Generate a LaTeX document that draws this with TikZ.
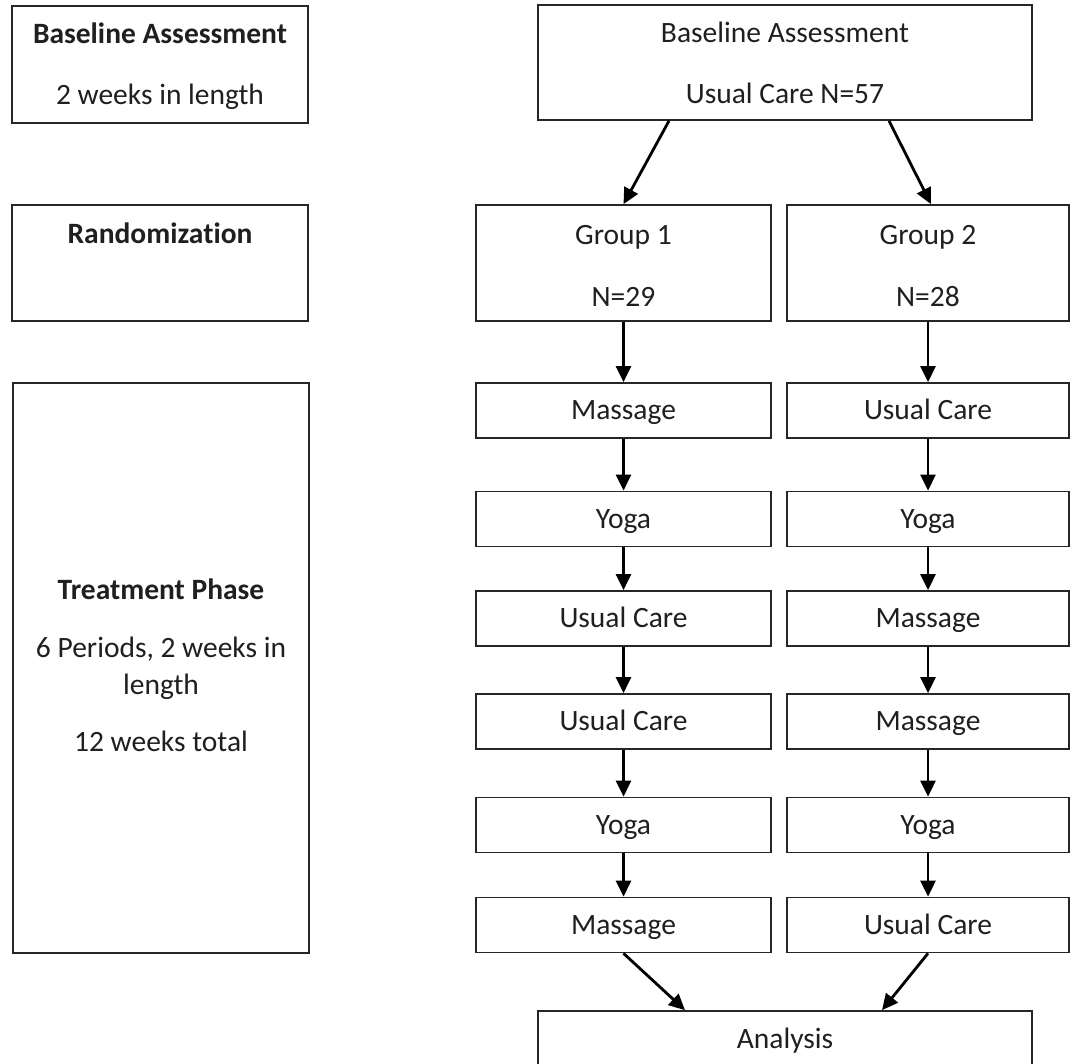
\documentclass[tikz,border=0pt]{standalone}
\usepackage{fontspec}
\setmainfont{Carlito}[Ligatures=NoCommon]
\usetikzlibrary{arrows.meta}
\begin{document}
\begin{tikzpicture}[x=1pt,y=-1pt,
  box/.style={draw=black!85, line width=1.7pt, inner sep=0pt, minimum width=#1, fill=none},
  box/.default=296,
  txt/.style={inner sep=0pt, font=\fontsize{29.5}{35}\selectfont, text=black!88, text height=22pt, text depth=4pt},
  arr/.style={line width=2.8pt, -{Triangle[length=16pt,width=15pt]}}
]
\useasboundingbox (0,0) rectangle (1071,1063);
\clip (0,0) rectangle (1071,1063);

% left column
\node[box=296, minimum height=117] (lb) at (160,64.5) {};
\node[txt] (lbt1) at (160,34) {\textbf{Baseline Assessment}};
\node[txt] (lbt2) at (160,95) {2 weeks in length};

\node[box=296, minimum height=116] (lr) at (160,263) {};
\node[txt] (lrt) at (160,234) {\textbf{Randomization}};

\node[box=296, minimum height=570] (lt) at (161,668) {};
\node[txt] (ltt1) at (161,590) {\textbf{Treatment Phase}};
\node[txt] (ltt2) at (161,648) {6 Periods, 2 weeks in};
\node[txt] (ltt3) at (161,685) {length};
\node[txt] (ltt4) at (161,742) {12 weeks total};

% top box
\node[box=494, minimum height=115] (top) at (785,62.5) {};
\node[txt] (topt1) at (785,33) {Baseline Assessment};
\node[txt] (topt2) at (785,94) {Usual Care N=57};

% groups
\node[box=295, minimum height=116] (g1) at (623.5,263) {};
\node[txt] (g1t1) at (623.5,235) {Group 1};
\node[txt] (g1t2) at (623.5,297) {N=29};
\node[box=282, minimum height=116] (g2) at (928,263) {};
\node[txt] (g2t1) at (928,235) {Group 2};
\node[txt] (g2t2) at (928,297) {N=28};

% rows
\tikzset{rowa/.style={txt, box=295, minimum height=55, draw=black!85, line width=1.7pt},
         rowb/.style={txt, box=282, minimum height=55, draw=black!85, line width=1.7pt}}
\node[rowa] (a1) at (623.5,410.5) {Massage};
\node[rowa] (a2) at (623.5,519) {Yoga};
\node[rowa] (a3) at (623.5,618.5) {Usual Care};
\node[rowa] (a4) at (623.5,721.5) {Usual Care};
\node[rowa] (a5) at (623.5,825) {Yoga};
\node[rowa] (a6) at (623.5,925) {Massage};
\node[rowb] (b1) at (928,410.5) {Usual Care};
\node[rowb] (b2) at (928,519) {Yoga};
\node[rowb] (b3) at (928,618.5) {Massage};
\node[rowb] (b4) at (928,721.5) {Massage};
\node[rowb] (b5) at (928,825) {Yoga};
\node[rowb] (b6) at (928,925) {Usual Care};

% analysis
\node[box=494, minimum height=59] (an) at (785,1040.5) {};
\node[txt] (ant) at (785,1039) {Analysis};

% arrows
\draw[arr] ([xshift=-116pt]top.south) -- (g1.north);
\draw[arr] ([xshift=104pt]top.south) -- ([xshift=3pt]g2.north);
\draw[arr] (g1.south) -- (a1.north);
\draw[arr] (a1) -- (a2);
\draw[arr] (a2) -- (a3);
\draw[arr] (a3) -- (a4);
\draw[arr] (a4) -- (a5);
\draw[arr] (a5) -- (a6);
\draw[arr] (g2.south) -- (b1.north);
\draw[arr] (b1) -- (b2);
\draw[arr] (b2) -- (b3);
\draw[arr] (b3) -- (b4);
\draw[arr] (b4) -- (b5);
\draw[arr] (b5) -- (b6);
\draw[arr] (a6.south) -- ([xshift=-100pt]an.north);
\draw[arr] (b6.south) -- ([xshift=97pt]an.north);
\end{tikzpicture}
\end{document}
